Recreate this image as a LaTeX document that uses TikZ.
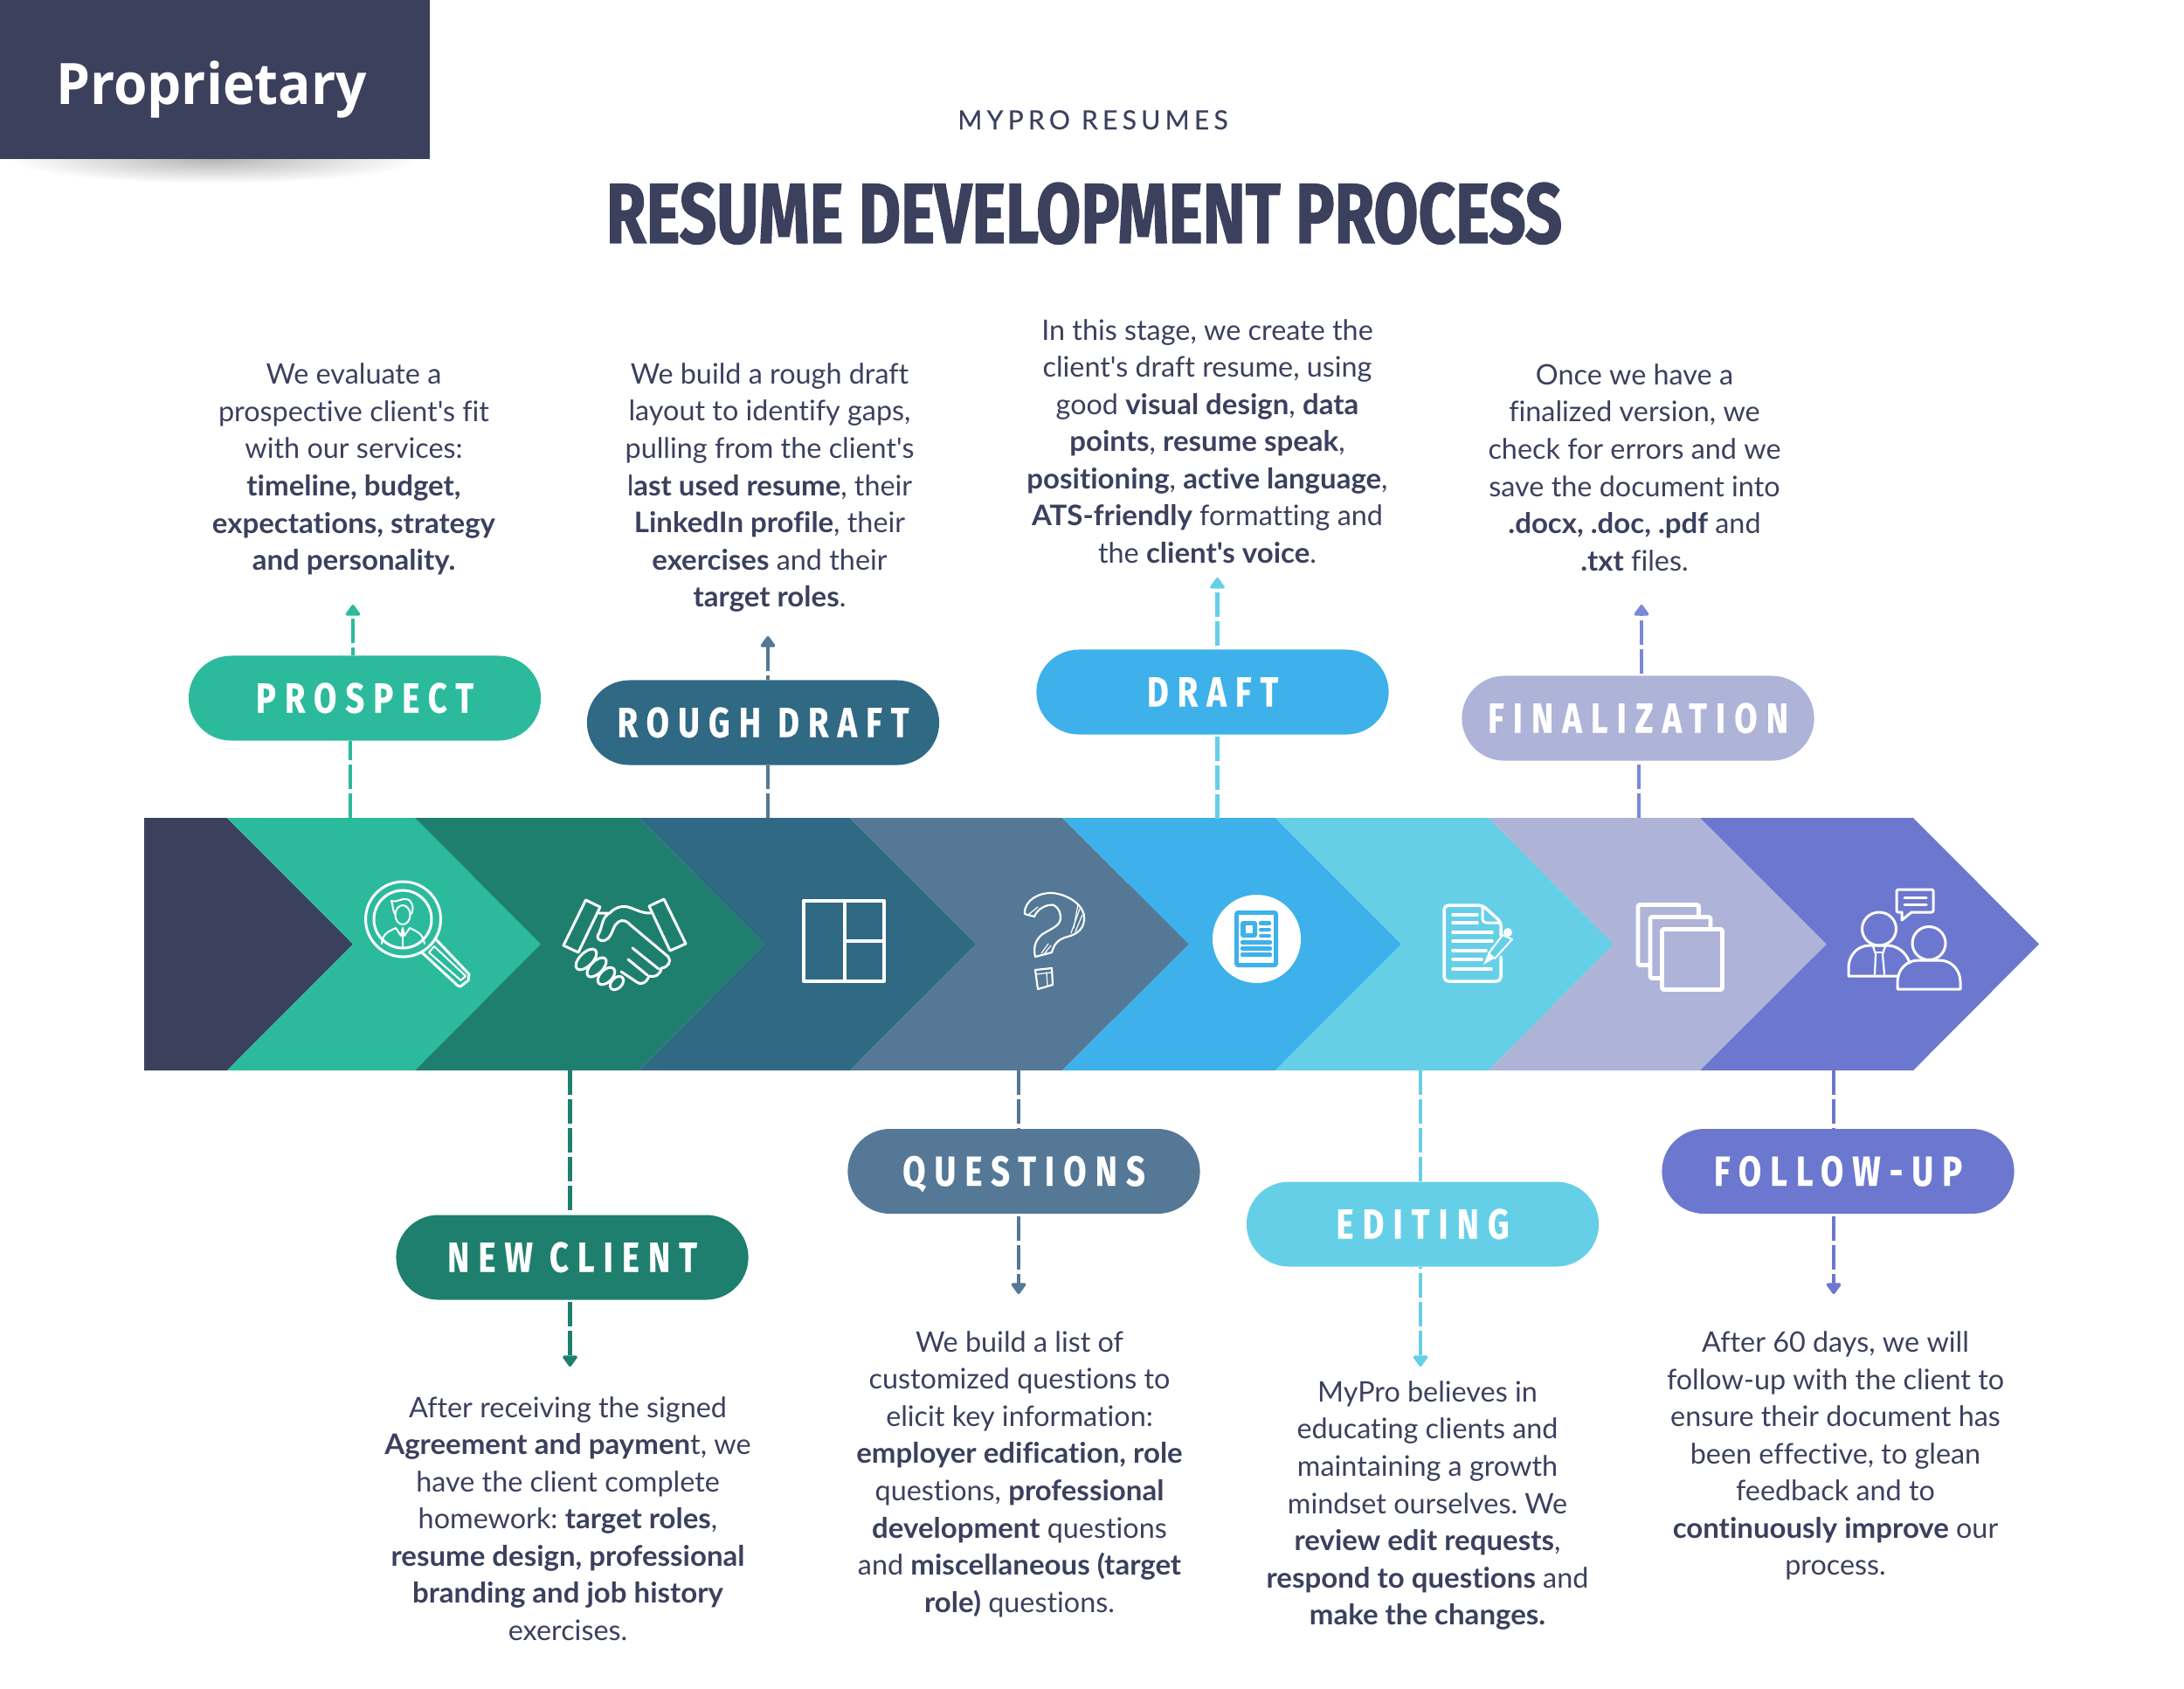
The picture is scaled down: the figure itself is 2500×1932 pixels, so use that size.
\documentclass[tikz,border=0pt]{standalone}
\usepackage{fontspec}
\usepackage{xcolor}
\newfontfamily\bodyfont[Ligatures=NoCommon,BoldFeatures={FakeStretch=1.02}]{Lato}
\newfontfamily\titlefont[FakeStretch=0.76,FakeBold=1.2]{Fira Sans}
\newfontfamily\pillfont[FakeStretch=0.79,LetterSpace=21,FakeBold=0.4]{Fira Sans}
\newfontfamily\markfont[FakeStretch=0.95]{Open Sans}
\newfontfamily\brandfont[LetterSpace=17,FakeBold=0.3]{Lato}
\usetikzlibrary{positioning}
\usetikzlibrary{arrows.meta}
\definecolor{darkc}{HTML}{3B405D}
\definecolor{prospectc}{HTML}{2BBB9C}
\definecolor{newclientc}{HTML}{1F7F6F}
\definecolor{roughc}{HTML}{306984}
\definecolor{questionc}{HTML}{547896}
\definecolor{draftc}{HTML}{3EB1EA}
\definecolor{editc}{HTML}{66CFE8}
\definecolor{finalc}{HTML}{AEB3D8}
\definecolor{finallinec}{HTML}{7A89D9}
\definecolor{followc}{HTML}{6C77CF}
\definecolor{shadowc}{HTML}{B4B4B4}

\begin{document}
\begin{tikzpicture}[x=0.01cm,y=-0.01cm,
    pill/.style={rounded corners=0.485cm,minimum width=4.03cm,minimum height=0.97cm,
      inner sep=0pt,text height=0.33cm,text depth=0pt,text=white,
      font=\pillfont\fontsize{13.7}{14}\selectfont\bfseries},
    bodytext/.style={align=center,inner sep=0pt,text=darkc,
      font=\bodyfont\fontsize{9.2}{12.1}\selectfont\frenchspacing},
    linkline/.style={line width=0.045cm,dash pattern=on 0.28cm off 0.05cm},
    linkarrow/.style={linkline,-{Triangle[width=0.19cm,length=0.14cm,round]}},
    iconline/.style={draw=white,line width=0.03cm,line join=round,line cap=round},
    iconthick/.style={draw=white,line width=0.048cm,line join=round},
    iconthin/.style={draw=white,line width=0.012cm,line cap=round}]
  \useasboundingbox (0,0) rectangle (2500,1932);

  % Corner tag
  \shade[inner color=shadowc,outer color=white] (245,182) ellipse [x radius=235,y radius=28];
  \fill[darkc] (0,0) rectangle (492,182);
  \node[anchor=base,text=white,inner sep=0pt,font=\markfont\fontsize{18.6}{20}\selectfont\bfseries] (tag) at (242,119) {Proprietary};

  % Heading
  \node[anchor=base,text=darkc,inner sep=0pt,font=\brandfont\fontsize{8.6}{10}\selectfont] (brand) at (1251,148) {MYPRO RESUMES};
  \node[anchor=base,text=darkc,inner sep=0pt,font=\titlefont\fontsize{27.7}{30}\selectfont\bfseries] (title) at (1241,278) {RESUME DEVELOPMENT PROCESS};

  % Band
  \fill[darkc] (165,936) -- (260,936) -- (404,1080.5) -- (260,1225) -- (165,1225) -- cycle;
  \fill[prospectc] (260,936) -- (475,936) -- (619,1080.5) -- (475,1225) -- (260,1225) -- (404,1080.5) -- cycle;
  \fill[newclientc] (475,936) -- (731,936) -- (875,1080.5) -- (731,1225) -- (475,1225) -- (619,1080.5) -- cycle;
  \fill[roughc] (731,936) -- (973,936) -- (1117,1080.5) -- (973,1225) -- (731,1225) -- (875,1080.5) -- cycle;
  \fill[questionc] (973,936) -- (1216,936) -- (1361,1080.5) -- (1216,1225) -- (973,1225) -- (1117,1080.5) -- cycle;
  \fill[draftc] (1216,936) -- (1460,936) -- (1604,1080.5) -- (1460,1225) -- (1216,1225) -- (1361,1080.5) -- cycle;
  \fill[editc] (1460,936) -- (1704,936) -- (1847,1080.5) -- (1704,1225) -- (1460,1225) -- (1604,1080.5) -- cycle;
  \fill[finalc] (1704,936) -- (1946,936) -- (2091,1080.5) -- (1946,1225) -- (1704,1225) -- (1847,1080.5) -- cycle;
  \fill[followc] (1946,936) -- (2190,936) -- (2334,1080.5) -- (2190,1225) -- (1946,1225) -- (2091,1080.5) -- cycle;

  % Magnifier
  \draw[iconline] (461.5,1052) circle [radius=43];
  \draw[iconline] (461,1052) circle [radius=33];
  \draw[iconline,line width=0.02cm] (461,1047) ellipse [x radius=8.5,y radius=11];
  \draw[iconline,line width=0.02cm] (452,1046) .. controls (449,1040) and (450,1036) .. (448,1031)
    .. controls (456,1033) and (458,1028) .. (465,1029) .. controls (472,1030) and (474,1038) .. (471,1046);
  \draw[iconline,line width=0.02cm] (437,1080) .. controls (438,1068) and (445,1066) .. (453,1062)
    -- (459,1071) -- (461,1062) -- (463,1071) -- (469,1062) .. controls (477,1066) and (484,1068) .. (486,1080);
  \draw[iconline,line width=0.02cm] (461,1066) -- (461,1085);
  \draw[iconline] (498,1074) -- (537,1115) -- (536,1122) -- (527,1129) -- (524,1128) -- (483,1090);
  \draw[iconline,line width=0.02cm] (497,1083) -- (491,1090) -- (527.5,1122) -- (533,1117) -- cycle;

  % Handshake
  \draw[iconline] (670.5,1030) -- (687,1038) -- (662,1090) -- (645,1082) -- cycle;
  \draw[iconline] (760,1029) -- (743,1037) -- (767,1088) -- (785,1080) -- cycle;
  \draw[iconline] (686,1045) -- (698,1045) .. controls (705,1037) and (715,1036) .. (722,1039)
    .. controls (730,1042) and (735,1045) .. (744,1045);
  \draw[iconline] (696,1046) .. controls (688,1052) and (690,1062) .. (684,1071)
    .. controls (684,1078) and (692,1078) .. (696,1074) .. controls (702,1068) and (702,1058) .. (708,1055)
    .. controls (712,1052) and (718,1054) .. (721,1058) -- (765,1095)
    .. controls (769,1100) and (765,1107) .. (757,1108) .. controls (756,1116) and (749,1119) .. (743,1117)
    .. controls (740,1125) and (733,1128) .. (729,1124) -- (711,1112);
  \draw[iconline] (724,1085) -- (754,1109);
  \draw[iconline] (719,1098) -- (741,1116);
  \draw[iconline,rotate around={-45:(671,1098)}] (671,1098) ellipse [x radius=7.5,y radius=15];
  \draw[iconline,rotate around={-45:(683,1107)}] (683,1107) ellipse [x radius=7,y radius=14];
  \draw[iconline,rotate around={-45:(694,1117)}] (694,1117) ellipse [x radius=7,y radius=12];
  \draw[iconline,rotate around={-45:(706,1125)}] (706,1125) ellipse [x radius=6,y radius=9];

  % Layout
  \draw[iconthick] (920,1031) rectangle (1012,1123);
  \draw[iconthick] (967,1031) -- (967,1123);
  \draw[iconthick] (967,1077) -- (1012,1077);

  % Question mark
  \draw[iconline,line width=0.022cm] (1173,1046) .. controls (1172,1030) and (1190,1021) .. (1205,1022)
    .. controls (1225,1024) and (1243,1038) .. (1241,1053) .. controls (1240,1065) and (1230,1070) .. (1222,1072)
    .. controls (1210,1075) and (1206,1082) .. (1204,1090) -- (1185,1095)
    .. controls (1183,1085) and (1184,1078) .. (1192,1070) .. controls (1204,1062) and (1214,1060) .. (1214,1050)
    .. controls (1214,1040) and (1206,1033) .. (1200,1036) .. controls (1192,1038) and (1187,1042) .. (1184,1049) -- cycle;
  \draw[iconthin] (1234,1035) -- (1229,1062);
  \draw[iconthin] (1239,1047) -- (1231,1066);
  \draw[iconthin] (1236,1040) -- (1226,1068);
  \draw[iconthin] (1200,1080) -- (1192,1091);
  \draw[iconthin] (1203,1082) -- (1195,1092);
  \draw[iconthin] (1178,1046) -- (1188,1038);
  \draw[iconline,line width=0.022cm] (1185,1110) -- (1204,1108) -- (1205,1127) -- (1188,1132) -- cycle;
  \draw[iconthin] (1186,1115) -- (1203,1113);
  \draw[iconthin] (1198,1113) -- (1199,1128);

  % Resume sheet
  \fill[white] (1438.5,1074.5) circle [radius=50.5];
  \fill[draftc,rounded corners=0.04cm] (1413,1042) rectangle (1463,1107);
  \fill[white] (1418,1047) rectangle (1458,1102);
  \fill[draftc,rounded corners=0.03cm] (1420,1054) rectangle (1439,1073);
  \fill[white] (1425.5,1059) rectangle (1433.5,1068);
  \fill[draftc,rounded corners=0.02cm] (1441,1054) rectangle (1455,1059);
  \fill[draftc,rounded corners=0.02cm] (1441,1062) rectangle (1455,1066);
  \fill[draftc,rounded corners=0.02cm] (1441,1069) rectangle (1455,1073);
  \fill[draftc,rounded corners=0.02cm] (1420,1076) rectangle (1456,1081);
  \fill[draftc,rounded corners=0.02cm] (1420,1083) rectangle (1456,1088);
  \fill[draftc,rounded corners=0.02cm] (1420,1090) rectangle (1456,1095);

  % Note and pencil
  \draw[iconline,line width=0.035cm,rounded corners=0.05cm] (1718,1070) -- (1718,1055) -- (1697,1036) -- (1653,1036) -- (1653,1123) -- (1718,1123) -- (1718,1095);
  \draw[iconline,line width=0.03cm,rounded corners=0.04cm] (1697,1037) -- (1697,1056) -- (1718,1056);
  \draw[iconline,line width=0.035cm] (1663,1047) -- (1691,1047);
  \draw[iconline,line width=0.035cm] (1663,1056) -- (1691,1056);
  \draw[iconline,line width=0.035cm] (1663,1067) -- (1708,1067);
  \draw[iconline,line width=0.035cm] (1663,1077) -- (1708,1077);
  \draw[iconline,line width=0.035cm] (1663,1088) -- (1701,1088);
  \draw[iconline,line width=0.035cm] (1663,1098) -- (1696,1098);
  \draw[iconline,line width=0.035cm] (1663,1109) -- (1707,1109);
  \draw[iconline,line width=0.02cm] (1720,1070) -- (1731,1075) -- (1711,1097) -- (1704,1091) -- cycle;
  \fill[white] (1726,1067) circle [radius=5];
  \fill[white] (1703,1092) -- (1710,1097) -- (1698,1104) -- cycle;

  % Sheets
  \draw[iconthick,rounded corners=0.02cm] (1875,1035.5) rectangle (1944.5,1104.5);
  \draw[iconthick,fill=finalc,rounded corners=0.02cm] (1889,1049.5) rectangle (1958,1119.5);
  \draw[iconthick,fill=finalc,rounded corners=0.02cm] (1902.5,1063.5) rectangle (1971.5,1132.5);

  % People
  \draw[iconline] (2151,1063) ellipse [x radius=19.5,y radius=19];
  \draw[iconline] (2186,1102) .. controls (2182,1090) and (2172,1082) .. (2160,1082) -- (2140,1082)
    .. controls (2125,1082) and (2116,1095) .. (2116,1107) -- (2116,1117) -- (2173,1117);
  \draw[iconline,line width=0.022cm] (2144,1083) -- (2147,1092) -- (2146,1115);
  \draw[iconline,line width=0.022cm] (2158,1083) -- (2155,1092) -- (2157,1115);
  \draw[iconline,line width=0.022cm] (2147,1090) -- (2155,1090);
  \draw[iconline] (2208,1079.5) circle [radius=19];
  \draw[iconline] (2172,1132) -- (2172,1124) .. controls (2172,1110) and (2182,1099) .. (2196,1099) -- (2220,1099)
    .. controls (2234,1099) and (2244,1110) .. (2244,1124) -- (2244,1132) -- cycle;
  \draw[iconline,rounded corners=0.02cm] (2177,1044) -- (2171,1044) -- (2171,1018) -- (2213,1018) -- (2213,1044) -- (2188,1044);
  \draw[iconline] (2177,1044) -- (2177,1053) -- (2188,1044);
  \draw[iconline] (2180,1027) -- (2205,1027);
  \draw[iconline] (2180,1035) -- (2205,1035);

  % Ends of the connectors
  \coordinate (prospectfoot) at (401,936);
  \coordinate (prospecttip) at (404,692);
  \coordinate (roughfoot) at (879,936);
  \coordinate (roughtip) at (879,728);
  \coordinate (draftfoot) at (1393.5,937);
  \coordinate (drafttip) at (1393.5,661);
  \coordinate (finalfoot) at (1876,936);
  \coordinate (finaltip) at (1879,692);
  \coordinate (newclientfoot) at (652.5,1225);
  \coordinate (newclienttip) at (652.5,1564);
  \coordinate (questionfoot) at (1166,1225);
  \coordinate (questiontip) at (1166,1481);
  \coordinate (editfoot) at (1626,1225);
  \coordinate (edittip) at (1626,1564);
  \coordinate (followfoot) at (2099,1225);
  \coordinate (followtip) at (2099,1481);

  % Pills
  \node[pill,fill=prospectc] (prospect) at (417.5,799) {PROSPECT};
  \node[pill,fill=roughc] (rough) at (873.5,827) {ROUGH DRAFT};
  \node[pill,fill=draftc] (draft) at (1388,792) {DRAFT};
  \node[pill,fill=finalc] (final) at (1875,822) {FINALIZATION};
  \node[pill,fill=newclientc] (newclient) at (655,1439) {NEW CLIENT};
  \node[pill,fill=questionc] (question) at (1172,1340.5) {QUESTIONS};
  \node[pill,fill=editc] (edit) at (1628.5,1401) {EDITING};
  \node[pill,fill=followc] (follow) at (2104,1340.5) {FOLLOW-UP};

  % Connectors
  \draw[linkline,prospectc] (prospectfoot) -- (prospectfoot |- prospect.south);
  \draw[linkarrow,prospectc,dash phase=0.19cm] (prospect.north -| prospecttip) -- (prospecttip);
  \draw[linkline,questionc] (roughfoot) -- (roughfoot |- rough.south);
  \draw[linkarrow,questionc,dash phase=0.23cm] (rough.north -| roughtip) -- (roughtip);
  \draw[linkline,editc] (draftfoot) -- (draftfoot |- draft.south);
  \draw[linkarrow,editc,dash phase=0.29cm] (draft.north -| drafttip) -- (drafttip);
  \draw[linkline,finallinec] (finalfoot) -- (finalfoot |- final.south);
  \draw[linkarrow,finallinec,dash phase=0.31cm] (final.north -| finaltip) -- (finaltip);
  \draw[linkline,newclientc] (newclientfoot) -- (newclientfoot |- newclient.north);
  \draw[linkarrow,newclientc,dash phase=0.31cm] (newclient.south -| newclienttip) -- (newclienttip);
  \draw[linkline,questionc] (questionfoot) -- (questionfoot |- question.north);
  \draw[linkarrow,questionc,dash phase=0.31cm] (question.south -| questiontip) -- (questiontip);
  \draw[linkline,editc] (editfoot) -- (editfoot |- edit.north);
  \draw[linkarrow,editc,dash phase=0.26cm] (edit.south -| edittip) -- (edittip);
  \draw[linkline,followc] (followfoot) -- (followfoot |- follow.north);
  \draw[linkarrow,followc,dash phase=0.31cm] (follow.south -| followtip) -- (followtip);

  % Upper texts
  \node[bodytext] (prospecttext) at (405,537) {We evaluate a\\prospective client's fit\\with our services:\\\textbf{timeline, budget,}\\\textbf{expectations, strategy}\\\textbf{and personality.}};
  \node[bodytext] (roughtext) at (881,558) {We build a rough draft\\layout to identify gaps,\\pulling from the client's\\l\textbf{ast used resume}, their\\\textbf{LinkedIn profile}, their\\\textbf{exercises} and their\\\textbf{target roles}.};
  \node[bodytext] (drafttext) at (1382,505) {In this stage, we create the\\client's draft resume, using\\good \textbf{visual design}, \textbf{data}\\\textbf{points}, \textbf{resume speak},\\\textbf{positioning}, \textbf{active language},\\\textbf{ATS-friendly} formatting and\\the \textbf{client's voice}.};
  \node[bodytext] (finaltext) at (1871,535) {Once we have a\\finalized version, we\\check for errors and we\\save the document into\\\textbf{.docx, .doc, .pdf} and\\\textbf{.txt} files.};

  % Lower texts
  \node[bodytext] (newclienttext) at (650,1738) {After receiving the signed\\\textbf{Agreement and paymen}t, we\\have the client complete\\homework: \textbf{target roles},\\\textbf{resume design, professional}\\\textbf{branding and job history}\\exercises.};
  \node[bodytext] (questiontext) at (1167,1687) {We build a list of\\customized questions to\\elicit key information:\\\textbf{employer edification, role}\\questions, \textbf{professional}\\\textbf{development} questions\\and \textbf{miscellaneous (target}\\\textbf{role)} questions.};
  \node[bodytext] (edittext) at (1634,1723) {MyPro believes in\\educating clients and\\maintaining a growth\\mindset ourselves. We\\\textbf{review edit requests},\\\textbf{respond to questions} and\\\textbf{make the changes.}};
  \node[bodytext] (followtext) at (2101,1666) {After 60 days, we will\\follow-up with the client to\\ensure their document has\\been effective, to glean\\feedback and to\\\textbf{continuously improve} our\\process.};
\end{tikzpicture}
\end{document}
